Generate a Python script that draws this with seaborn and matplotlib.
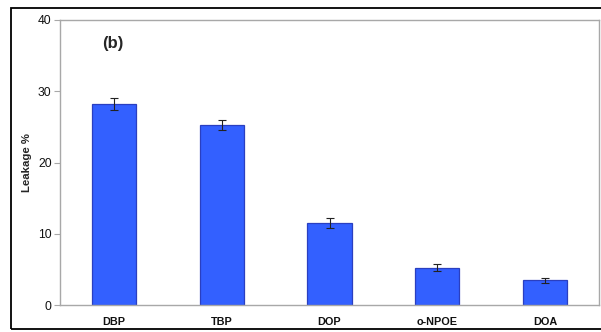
import matplotlib
matplotlib.use("Agg")
import matplotlib.pyplot as plt
from matplotlib.patches import Rectangle
import seaborn as sns
import pandas as pd

# Plasticizer leakage data
plasticizers = ["DBP", "TBP", "DOP", "o-NPOE", "DOA"]
leakage = [28.2, 25.3, 11.5, 5.25, 3.45]
leakage_err = [0.9, 0.7, 0.65, 0.45, 0.4]
y_ticks = [0, 10, 20, 30, 40]

df = pd.DataFrame({"plasticizer": plasticizers, "leakage": leakage})

sns.set_style("white")
plt.rcParams["font.family"] = ["Liberation Sans", "DejaVu Sans"]

fig = plt.figure(figsize=(6.01, 3.32), dpi=100)
W, H = 601, 332
ax = fig.add_axes([60 / W, (H - 305) / H, (599 - 60) / W, (305 - 20) / H])

sns.barplot(data=df, x="plasticizer", y="leakage", ax=ax, color="#3360ff",
            saturation=1, width=0.41, edgecolor="#2a3fc0", linewidth=0.9,
            errorbar=None)
ax.errorbar(range(len(plasticizers)), leakage, yerr=leakage_err, fmt="none",
            ecolor="#222222", elinewidth=0.8, capsize=2.7, capthick=0.8)

ax.set_xlim(-0.5, 4.5)
ax.set_ylim(0, 40)
ax.set_yticks(y_ticks)
ax.set_xlabel("")
ax.set_ylabel("Leakage %", fontsize=8.2, fontweight="bold", labelpad=4)

gray = "#a8a8a8"
for side in ["left", "bottom", "top", "right"]:
    ax.spines[side].set_visible(True)
    ax.spines[side].set_color(gray)
    ax.spines[side].set_linewidth(1.0)

ax.tick_params(axis="y", which="both", left=True, length=4, width=0.8,
               color=gray, labelsize=8.7, pad=2, labelcolor="#111111")
ax.tick_params(axis="x", which="both", bottom=False, length=0, labelsize=7.8,
               pad=8.5, labelcolor="#111111")
for lab in ax.get_xticklabels():
    lab.set_fontweight("bold")

ax.text(0.078, 0.917, "(b)", transform=ax.transAxes, fontsize=12,
        fontweight="bold", ha="left", va="center")

# Black outer frame around the figure panel
frame = Rectangle((11 / W, (H - 329) / H), (606 - 11) / W, (329 - 8) / H,
                  transform=fig.transFigure, fill=False, edgecolor="black",
                  linewidth=1.3, clip_on=False)
fig.patches.append(frame)

fig.savefig("out.png", dpi=100)
